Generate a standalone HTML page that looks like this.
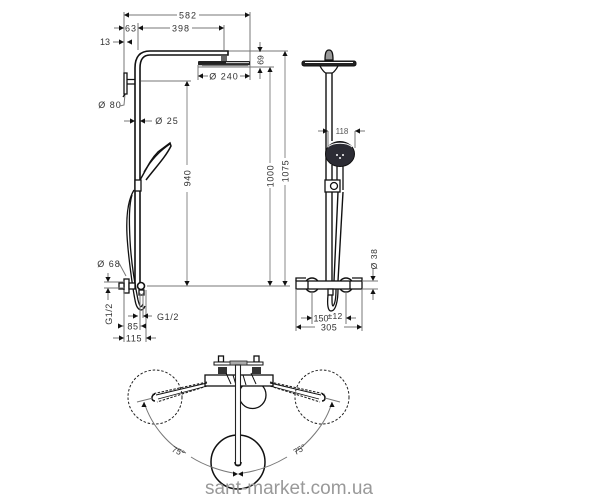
<!DOCTYPE html>
<html><head><meta charset="utf-8"><style>
html,body{margin:0;padding:0;background:#fff}
svg{display:block;filter:blur(.35px)}
text{font-family:"Liberation Sans",sans-serif;font-size:9px;fill:#333}
.d{stroke:#777;stroke-width:1;fill:none}
.k{stroke:#111;stroke-width:1.3;fill:none}
.w{stroke:#111;stroke-width:1.3;fill:#fff}
.t{stroke:#222;stroke-width:1.1;fill:none;stroke-dasharray:2.5 1.5}
</style></head><body>
<svg width="600" height="500" viewBox="0 0 600 500" xmlns="http://www.w3.org/2000/svg">
<defs>
<path id="a" d="M0 0L-5 -2.6V2.6Z" fill="#111"/>
</defs>
<!-- extension lines -->
<path class="d" d="M124 12V73M250 12V80M138 23V50M224 25V50M198 65V80M228 51H288M198 67H274M141 81H191M147 286H290"/>
<!-- 582 -->
<path class="d" d="M124 15H177M199 15H250"/><use href="#a" transform="translate(124 15) rotate(180)"/><use href="#a" transform="translate(250 15)"/>
<text x="188" y="18.5" text-anchor="middle" letter-spacing="1">582</text>
<!-- 63 / 398 -->
<path class="d" d="M114 28H124M138 28H170M192 28H224"/><use href="#a" transform="translate(124 28)"/><use href="#a" transform="translate(138 28) rotate(180)"/><use href="#a" transform="translate(224 28)"/>
<text x="131" y="31.5" text-anchor="middle" letter-spacing="1">63</text>
<text x="181" y="31.5" text-anchor="middle" letter-spacing="1">398</text>
<!-- 13 -->
<path class="d" d="M113 42H124M127 42H132"/><use href="#a" transform="translate(124 42)"/><use href="#a" transform="translate(127 42) rotate(180)"/>
<text x="105" y="45" text-anchor="middle">13</text>
<!-- 69 -->
<path class="d" d="M260 42V52M260 68V79"/><use href="#a" transform="translate(260 52) rotate(90)"/><use href="#a" transform="translate(260 68) rotate(-90)"/>
<text transform="translate(257.5 60) rotate(90)" text-anchor="middle" style="font-size:8.5px">69</text>
<!-- 240 -->
<path class="d" d="M198 76H208M240 76H250"/><use href="#a" transform="translate(198 76) rotate(180)"/><use href="#a" transform="translate(250 76)"/>
<text x="224" y="79.5" text-anchor="middle" letter-spacing="1">Ø 240</text>
<!-- 80 -->
<text x="110" y="108" text-anchor="middle" letter-spacing="1">Ø 80</text>
<path class="d" d="M120 106L124 105L125 94"/>
<!-- 25 -->
<path class="d" d="M124 121H135M140 121H152"/><use href="#a" transform="translate(135 121)"/><use href="#a" transform="translate(140 121) rotate(180)"/>
<text x="167" y="124" text-anchor="middle" letter-spacing="1">Ø 25</text>
<!-- verticals -->
<path stroke="#888" fill="none" d="M187 81V165M187 192V286M270 67V163M270 188V286M285 51V158M285 185V286"/>
<use href="#a" transform="translate(187 81) rotate(-90)"/><use href="#a" transform="translate(187 286) rotate(90)"/>
<use href="#a" transform="translate(270 67) rotate(-90)"/><use href="#a" transform="translate(270 286) rotate(90)"/>
<use href="#a" transform="translate(285 51) rotate(-90)"/><use href="#a" transform="translate(285 286) rotate(90)"/>
<text transform="translate(190.5 178) rotate(-90)" text-anchor="middle" letter-spacing=".6">940</text>
<text transform="translate(273.5 176) rotate(-90)" text-anchor="middle" letter-spacing=".6">1000</text>
<text transform="translate(288.5 171) rotate(-90)" text-anchor="middle" letter-spacing=".6">1075</text>
<!-- side shower -->
<path class="k" style="stroke-width:1.6" d="M135 286V68Q135 51 150 51H228V55H150Q140 55 140 68V286"/>
<path d="M221 56h6v5h-6z" fill="#666"/>
<rect x="198" y="61" width="52" height="4.2" rx="1" fill="#222"/>
<path d="M226 62.7H249" stroke="#fff" stroke-width=".8"/>
<path d="M202 65.5H248" stroke="#777" stroke-width="1.2"/>
<path class="w" d="M124 73h3v21h-3z"/><path class="k" d="M127 79.5H135M127 84H135"/>
<path class="k" d="M125 94L123 97"/>
<path class="k" style="stroke-width:1.5" d="M140 180C146 170 150 160 158 152L170 143L171 146C165 158 155 168 146 180"/>
<path class="k" d="M144 172C150 162 158 152 170 144"/>
<rect class="w" x="135" y="180" width="6" height="11"/>
<path class="k" d="M134 190C128 200 126 215 127 235C128 255 133 290 135 300C137 312 143 312 145 306"/>
<path class="k" d="M132 195C129 205 129 220 130 240C131 260 135 285 138 300C140 308 141 308 143 304"/>
<rect class="w" x="124" y="279" width="5" height="14"/>
<rect class="w" x="119" y="283" width="5" height="6"/>
<rect class="w" x="129" y="283" width="6" height="6"/>
<circle class="w" cx="141" cy="286" r="3.5" style="stroke-width:1.6"/>
<rect class="w" x="139" y="290" width="5" height="5"/>
<!-- side lower dims -->
<text x="109" y="267" text-anchor="middle" letter-spacing="1">Ø 68</text>
<path class="d" d="M119 263L126 276M104 282H125M104 288H125"/>
<path class="d" d="M108 273V282M108 288V300"/>
<use href="#a" transform="translate(108 282) rotate(90)"/><use href="#a" transform="translate(108 288) rotate(-90)"/>
<text transform="translate(112 314) rotate(-90)" text-anchor="middle" letter-spacing=".5">G1/2</text>
<path class="d" d="M124 290V342M146 290V342M140 293V330M143 293V318"/>
<path class="d" d="M128 316H138M143 316H152"/><use href="#a" transform="translate(138 316)"/><use href="#a" transform="translate(143 316) rotate(180)"/>
<text x="168" y="320" text-anchor="middle" letter-spacing=".6">G1/2</text>
<path class="d" d="M118 326H124M140 326H146"/><use href="#a" transform="translate(123 326)"/><use href="#a" transform="translate(141 326) rotate(180)"/>
<text x="133" y="329.5" text-anchor="middle" letter-spacing=".6">85</text>
<path class="d" d="M113 338H124M146 338H156"/><use href="#a" transform="translate(124 338)"/><use href="#a" transform="translate(146 338) rotate(180)"/>
<text x="134" y="341.5" text-anchor="middle" letter-spacing=".6">115</text>
<!-- front view -->
<path d="M325 60C325 53 326 50 329 50C332 50 333 53 333 60Z" fill="#999" stroke="#111" stroke-width="1.3"/>
<rect x="302" y="61" width="54" height="5" rx="2" fill="#222" stroke="#111"/>
<path d="M305 62.5H353" stroke="#fff" stroke-width=".9"/>
<path class="k" d="M320 66C322 70 325 73 326 73H332C333 73 336 70 338 66"/>
<path class="k" style="stroke-width:1.4" d="M326 73V281M332 73V141M332 165V281"/>
<ellipse cx="340" cy="154" rx="14.5" ry="12.5" fill="#2c2c34" stroke="#111"/>
<path d="M328 147C333 142 347 142 352 147" stroke="#fff" fill="none"/>
<circle cx="337" cy="155" r="1" fill="#fff"/><circle cx="343" cy="155" r="1" fill="#fff"/><circle cx="340" cy="158" r="1" fill="#fff"/>
<path class="k" d="M337 166V190M343 166V190"/>
<rect class="w" x="325" y="180" width="15" height="12"/>
<circle class="w" cx="334" cy="186" r="3.5"/>
<path class="k" style="stroke-width:1.4" d="M338 192L334 281M343 192L338 281"/>
<!-- mixer -->
<circle class="w" cx="312" cy="285" r="7" style="stroke-width:1.4"/><circle class="w" cx="346" cy="285" r="7" style="stroke-width:1.4"/>
<rect class="w" x="296" y="281" width="66" height="8"/>
<path class="k" d="M296 281V278H306M352 278H362V281M308 281V289M350 281V289"/>
<rect class="w" x="328" y="289" width="5" height="6"/>
<path class="k" d="M328 295C327 305 328 311 331 311C336 311 338 300 338 289M332 295C332 302 332 306 333 306C335 304 336 298 336 289"/>
<!-- front dims -->
<path class="d" d="M296 289V331M362 289V331M312 292V324M346 292V324"/>
<path class="d" d="M301 318H312M346 318H356"/><use href="#a" transform="translate(312 318)"/><use href="#a" transform="translate(346 318) rotate(180)"/>
<text x="321" y="321.5" text-anchor="middle">150</text><text x="335" y="319" text-anchor="middle" style="font-size:8.5px" letter-spacing=".3">±12</text>
<path class="d" d="M296 327H315M344 327H362"/><use href="#a" transform="translate(296 327) rotate(180)"/><use href="#a" transform="translate(362 327)"/>
<text x="329" y="330.5" text-anchor="middle" letter-spacing=".4">305</text>
<path class="d" d="M362 281H378M362 289H378M373 269V280M373 290V300"/>
<use href="#a" transform="translate(373 281) rotate(90)"/><use href="#a" transform="translate(373 289) rotate(-90)"/>
<text transform="translate(377 259) rotate(-90)" text-anchor="middle" letter-spacing=".6" style="font-size:8.5px">Ø 38</text>
<path class="d" d="M328 131V148M355 131V148M318 131H328M355 131H365"/>
<use href="#a" transform="translate(328 131)"/><use href="#a" transform="translate(355 131) rotate(180)"/>
<text x="342" y="134" text-anchor="middle" style="font-size:8px;fill:#555">118</text>
<!-- plan view -->
<circle cx="155" cy="397" r="27" fill="none" stroke="#222" stroke-dasharray="2.5 1.8"/>
<circle cx="322" cy="397" r="27" fill="none" stroke="#222" stroke-dasharray="2.5 1.8"/>
<circle cx="252.5" cy="395" r="13.5" class="k"/>
<circle cx="238" cy="462" r="27" fill="none" stroke="#111" stroke-width="1.5"/>
<rect class="w" x="205" y="375" width="68" height="11"/>
<rect x="218" y="367" width="9" height="7" fill="#333"/><rect x="252" y="367" width="9" height="7" fill="#333"/>
<rect class="w" x="218.500" y="356" width="5" height="6"/><rect class="w" x="254" y="356" width="5" height="6"/>
<rect x="214" y="362" width="49" height="3" fill="#fff" stroke="#111"/>
<rect x="230" y="361" width="17" height="4" fill="#aaa" stroke="#222" stroke-width=".8"/>
<path d="M226 373L231 384M251 373L256 384M233 375L236 385M243 375L246 385" stroke="#111" fill="none"/>
<path class="t" d="M207 382L152 394M207 386L157 402"/>
<path class="k" style="stroke-width:.9" d="M156 395L207 383M158 399L207 386"/>
<path class="t" d="M270 382L325 394M270 386L320 402"/>
<path class="k" style="stroke-width:.9" d="M321 395L270 383M319 399L270 386"/>
<path d="M155 394C151 395 151 401 155 401" fill="none" stroke="#111" stroke-width="1.6"/>
<path d="M322 394C326 395 326 401 322 401" fill="none" stroke="#111" stroke-width="1.6"/>
<path class="d" d="M137 402L153 398M340 402L325 398"/>
<rect x="235.500" y="365" width="5" height="100" fill="#fff" stroke="#222" stroke-width="1.1"/>
<path d="M235 462C235 467 241 467 241 462" fill="none" stroke="#111" stroke-width="1.6"/>
<path d="M144 402C152 428 172 448 186 453" class="d"/>
<path d="M191 457C205 466 222 471 233 473" class="d"/>
<path d="M332 402C326 425 306 445 295 452M287 457C272 466 257 471 243 473" class="d"/>
<use href="#a" transform="translate(144 402) rotate(-90)"/><use href="#a" transform="translate(332 402) rotate(-90)"/>
<use href="#a" transform="translate(238 474)"/><use href="#a" transform="translate(238 474) rotate(180)"/>
<text transform="translate(177 454) rotate(25)" text-anchor="middle" style="font-size:8.5px">75°</text>
<text transform="translate(301 452) rotate(-30)" text-anchor="middle" style="font-size:8.5px">75°</text>
<!-- watermark -->
<text x="205" y="494" textLength="168" lengthAdjust="spacingAndGlyphs" style="font-size:19px;fill:#999">sant-market.com.ua</text>
</svg>
</body></html>
